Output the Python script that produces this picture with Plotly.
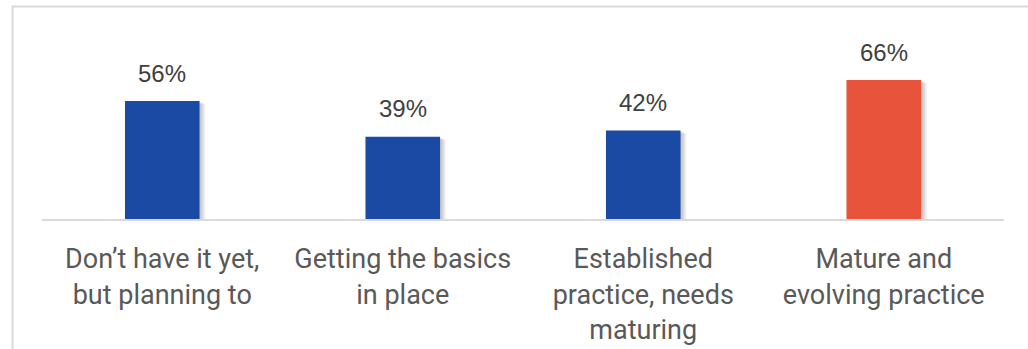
import plotly.graph_objects as go

# Survey responses: share of respondents per maturity stage
categories = [
    "Don’t have it yet,<br>but planning to",
    "Getting the basics<br>in place",
    "Established<br>practice, needs<br>maturing",
    "Mature and<br>evolving practice",
]
values = [56, 39, 42, 66]
value_labels = ["56%", "39%", "42%", "66%"]
bar_colors = ["#1B4AA4", "#1B4AA4", "#1B4AA4", "#E8533B"]

W, H = 1028, 349
M_L, M_R, M_T, M_B = 42, 24, 40, 130
Y_MAX = 85
BAR_W = 0.31

x_idx = list(range(len(categories)))
plot_w = W - M_L - M_R
plot_h = H - M_T - M_B
px_x = len(categories) / plot_w      # category units per pixel
px_y = Y_MAX / plot_h                # value units per pixel

fig = go.Figure()

# soft drop shadow to the lower right of each bar
for i in range(1, 7):
    fig.add_trace(go.Bar(
        x=x_idx, y=values,
        base=[-i * 0.5 * px_y] * len(values),
        width=BAR_W,
        offset=-BAR_W / 2 + i * px_x,
        marker=dict(color="rgba(0,0,0,0.045)", line=dict(width=0)),
        hoverinfo="skip", showlegend=False,
    ))

fig.add_trace(go.Bar(
    x=x_idx, y=values,
    width=BAR_W,
    marker=dict(color=bar_colors, line=dict(width=0)),
    showlegend=False,
))

for xi, v, lab in zip(x_idx, values, value_labels):
    fig.add_annotation(
        x=xi, y=v, text=lab, showarrow=False,
        yanchor="middle", yshift=28,
        font=dict(family="Liberation Sans, Arial", size=24, color="#404040"),
    )

# light frame around the chart (left and top edges visible)
def px_to_paper(px, py):
    return (px - M_L) / plot_w, (H - M_B - py) / plot_h

x0, y_top = px_to_paper(12.5, 6.5)
x_far, y_bot = px_to_paper(W + 20, H + 20)
fig.add_shape(
    type="path", xref="paper", yref="paper",
    path=f"M {x0} {y_bot} L {x0} {y_top} L {x_far} {y_top}",
    line=dict(color="#D9D9D9", width=2),
)

fig.update_layout(
    width=W, height=H,
    margin=dict(l=M_L, r=M_R, t=M_T, b=M_B, autoexpand=False),
    barmode="overlay",
    plot_bgcolor="white", paper_bgcolor="white",
    xaxis=dict(
        tickmode="array", tickvals=x_idx, ticktext=categories,
        range=[-0.5, len(categories) - 0.5],
        showline=True, linecolor="#D9D9D9", linewidth=2,
        showgrid=False, zeroline=False, ticks="",
        automargin=False,
        ticklabelstandoff=15,
        tickfont=dict(family="Roboto", size=27, color="#595959"),
    ),
    yaxis=dict(range=[0, Y_MAX], visible=False, automargin=False),
)

fig.write_html("out.html")
